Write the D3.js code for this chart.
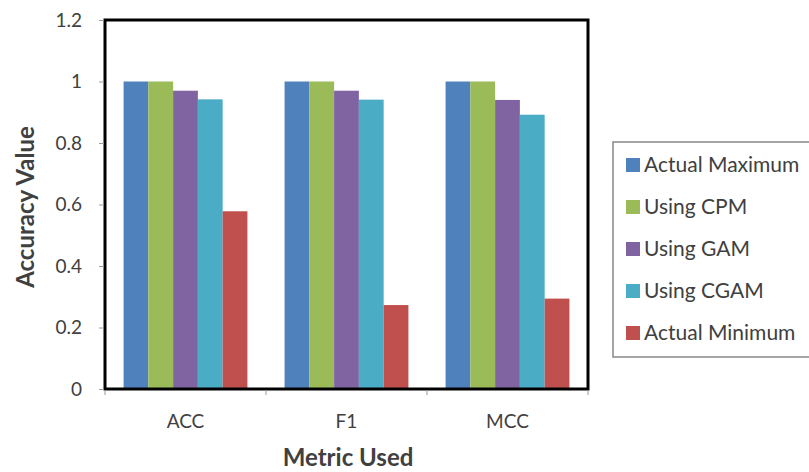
<!DOCTYPE html>
<html>
<head>
<meta charset="utf-8">
<script src="https://cdn.jsdelivr.net/npm/d3@7"></script>
<style>
  body { margin: 0; background: #fff; }
  text { font-family: Lato, 'Open Sans', sans-serif; }
</style>
</head>
<body>
<div id="chart"></div>
<script>
const metrics = ['ACC', 'F1', 'MCC'];
const seriesNames = ['Actual Maximum', 'Using CPM', 'Using GAM', 'Using CGAM', 'Actual Minimum'];
const seriesColors = ['#4f81bd', '#9bbb59', '#8064a2', '#4bacc6', '#c0504d'];
const actualMax = [1, 1, 1];
const usingCpm = [1, 1, 1];
const usingGam = [0.97, 0.97, 0.94];
const usingCgam = [0.942, 0.941, 0.892];
const actualMin = [0.578, 0.273, 0.294];
const yTicks = [0, 0.2, 0.4, 0.6, 0.8, 1, 1.2];

const seriesValues = [actualMax, usingCpm, usingGam, usingCgam, actualMin];

const width = 809;
const height = 472;
const plot = { left: 105, right: 588, top: 20, bottom: 389 };

const svg = d3.select('#chart')
  .append('svg')
  .attr('width', width)
  .attr('height', height);

const x = d3.scaleBand()
  .domain(metrics)
  .range([plot.left, plot.right]);

// excel style gap: 1.5 bar widths between groups
const groupWidth = x.bandwidth() * 5 / 6.5;
const xInner = d3.scaleBand()
  .domain(seriesNames)
  .range([0, groupWidth]);

const y = d3.scaleLinear()
  .domain([0, 1.2])
  .range([plot.bottom, plot.top]);

// bars
seriesNames.forEach((name, si) => {
  svg.append('g')
    .selectAll('rect')
    .data(metrics)
    .enter()
    .append('rect')
    .attr('x', m => x(m) + (x.bandwidth() - groupWidth) / 2 + xInner(name))
    .attr('y', (m, i) => y(seriesValues[si][i]))
    .attr('width', xInner.bandwidth())
    .attr('height', (m, i) => y(0) - y(seriesValues[si][i]))
    .attr('fill', seriesColors[si]);
});

// frame
svg.append('rect')
  .attr('x', plot.left)
  .attr('y', plot.top)
  .attr('width', plot.right - plot.left)
  .attr('height', plot.bottom - plot.top)
  .attr('fill', 'none')
  .attr('stroke', '#000')
  .attr('stroke-width', 3);

// y axis
const yAxis = d3.axisLeft(y)
  .tickValues(yTicks)
  .tickSize(5)
  .tickPadding(17)
  .tickFormat(d3.format('~g'));

const gy = svg.append('g')
  .attr('transform', `translate(${plot.left - 1},0)`)
  .call(yAxis);
gy.select('.domain').remove();
gy.selectAll('line').attr('stroke', '#999');
gy.selectAll('text')
  .attr('fill', '#404040')
  .style('font-size', '19px');

// x axis, ticks at category boundaries
const boundaries = metrics.map(m => x(m)).concat([plot.right]);
svg.append('g')
  .selectAll('line')
  .data(boundaries)
  .enter()
  .append('line')
  .attr('x1', d => d)
  .attr('x2', d => d)
  .attr('y1', plot.bottom + 1)
  .attr('y2', plot.bottom + 6)
  .attr('stroke', '#999');

svg.append('g')
  .selectAll('text')
  .data(metrics)
  .enter()
  .append('text')
  .attr('x', m => x(m) + x.bandwidth() / 2)
  .attr('y', 428)
  .attr('text-anchor', 'middle')
  .attr('fill', '#404040')
  .style('font-size', '19px')
  .text(m => m);

// axis titles
svg.append('text')
  .attr('x', 348)
  .attr('y', 466)
  .attr('text-anchor', 'middle')
  .attr('fill', '#404040')
  .style('font-size', '24px')
  .style('font-weight', 'bold')
  .text('Metric Used');

svg.append('text')
  .attr('transform', 'translate(34,207) rotate(-90)')
  .attr('text-anchor', 'middle')
  .attr('fill', '#404040')
  .style('font-size', '24px')
  .style('font-weight', 'bold')
  .text('Accuracy Value');

// legend
svg.append('rect')
  .attr('x', 613)
  .attr('y', 142)
  .attr('width', 210)
  .attr('height', 215)
  .attr('fill', '#fff')
  .attr('stroke', '#888')
  .attr('stroke-width', 1.5);

const legend = svg.append('g')
  .selectAll('g')
  .data(seriesNames)
  .enter()
  .append('g')
  .attr('transform', (d, i) => `translate(626,${165 + i * 42})`);

legend.append('rect')
  .attr('x', 0)
  .attr('y', -7)
  .attr('width', 14)
  .attr('height', 14)
  .attr('fill', (d, i) => seriesColors[i]);

legend.append('text')
  .attr('x', 18)
  .attr('y', 7)
  .attr('fill', '#404040')
  .style('font-size', '21px')
  .text(d => d);
</script>
</body>
</html>
